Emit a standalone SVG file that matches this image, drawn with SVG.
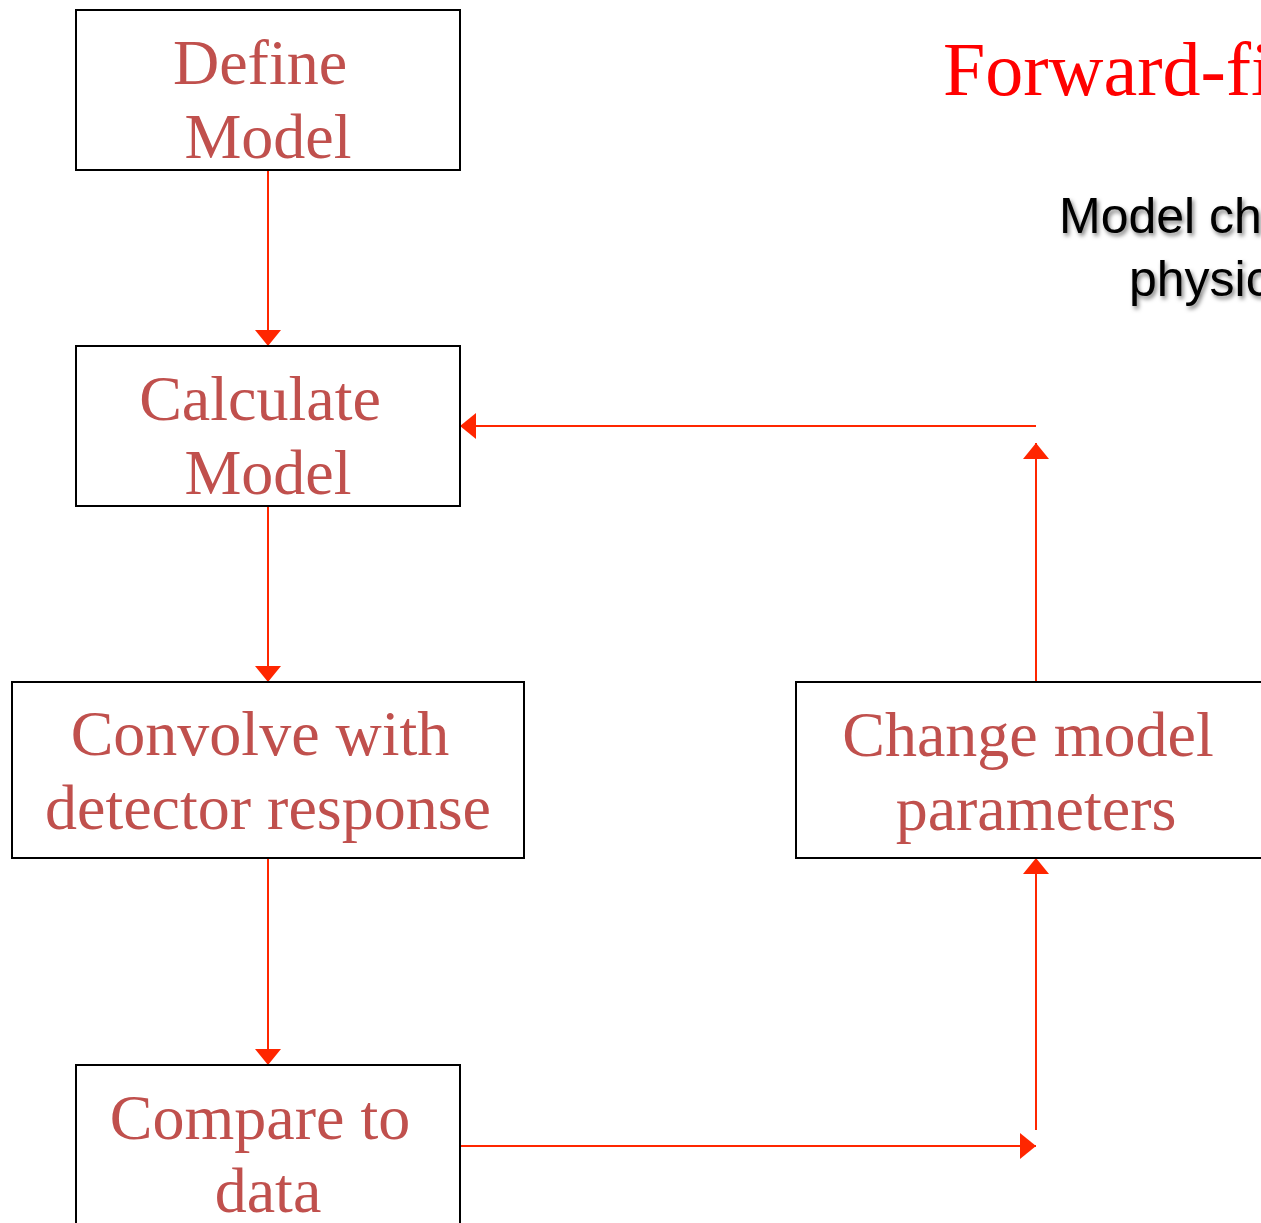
<svg xmlns="http://www.w3.org/2000/svg" width="1261" height="1223" viewBox="0 0 1261 1223">
  <style>
    .box { fill: #FFFFFF; stroke: #000000; stroke-width: 2; }
    .lbl { font-family: "Liberation Serif", "Times New Roman", serif; font-size: 64px; fill: #C0504D; text-anchor: middle; }
    .title { font-family: "Liberation Serif", "Times New Roman", serif; font-size: 76px; fill: #FF0000; }
    .sub { font-family: "Liberation Sans", Arial, sans-serif; font-size: 50px; fill: #000000; }
    .conn { fill: none; stroke: #FF2600; stroke-width: 2; }
  </style>
  <defs>
    <marker id="arr" markerUnits="userSpaceOnUse" markerWidth="16" markerHeight="26" refX="16" refY="13" orient="auto">
      <path d="M0,0 L16,13 L0,26 Z" fill="#FF2600"/>
    </marker>
    <filter id="shadow" x="-10%" y="-20%" width="130%" height="160%">
      <feDropShadow dx="2" dy="3" stdDeviation="2" flood-color="#000000" flood-opacity="0.5"/>
    </filter>
  </defs>
  <rect width="1261" height="1223" fill="#FFFFFF"/>

  <g id="title">
    <text class="title" x="943" y="95">Forward-fi</text>
  </g>
  <g id="subtitle" filter="url(#shadow)">
    <text class="sub" x="1059" y="233">Model ch</text>
    <text class="sub" x="1129" y="296">physic</text>
  </g>

  <g id="connectors">
    <line class="conn" x1="268" y1="171" x2="268" y2="346" marker-end="url(#arr)"/>
    <line class="conn" x1="268" y1="507" x2="268" y2="682" marker-end="url(#arr)"/>
    <line class="conn" x1="268" y1="859" x2="268" y2="1065" marker-end="url(#arr)"/>
    <line class="conn" x1="461" y1="1146" x2="1036" y2="1146" marker-end="url(#arr)"/>
    <line class="conn" x1="1036" y1="1130" x2="1036" y2="858" marker-end="url(#arr)"/>
    <line class="conn" x1="1036" y1="682" x2="1036" y2="443" marker-end="url(#arr)"/>
    <line class="conn" x1="1036" y1="426" x2="460" y2="426" marker-end="url(#arr)"/>
  </g>

  <g id="define-model">
    <rect class="box" x="76" y="10" width="384" height="160"/>
    <text class="lbl" x="260" y="84">Define</text>
    <text class="lbl" x="268" y="158">Model</text>
  </g>
  <g id="calculate-model">
    <rect class="box" x="76" y="346" width="384" height="160"/>
    <text class="lbl" x="260" y="420">Calculate</text>
    <text class="lbl" x="268" y="494">Model</text>
  </g>
  <g id="convolve">
    <rect class="box" x="12" y="682" width="512" height="176"/>
    <text class="lbl" x="260" y="755">Convolve with</text>
    <text class="lbl" x="268" y="829">detector response</text>
  </g>
  <g id="compare">
    <rect class="box" x="76" y="1065" width="384" height="180"/>
    <text class="lbl" x="260" y="1139">Compare to</text>
    <text class="lbl" x="268" y="1212">data</text>
  </g>
  <g id="change-params">
    <rect class="box" x="796" y="682" width="480" height="176"/>
    <text class="lbl" x="1028" y="756">Change model</text>
    <text class="lbl" x="1036" y="830">parameters</text>
  </g>
</svg>
